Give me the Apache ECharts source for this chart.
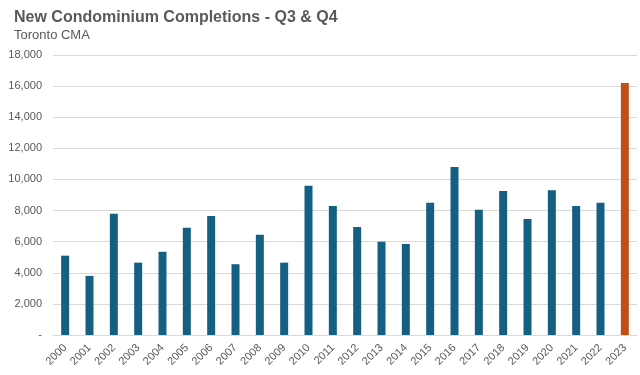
<!DOCTYPE html>
<html>
<head>
<meta charset="utf-8">
<script src="https://cdn.jsdelivr.net/npm/echarts@6/dist/echarts.min.js"></script>
<style>
  html, body { margin: 0; padding: 0; background: #fff; }
  #chart { width: 640px; height: 375px; }
</style>
</head>
<body>
<div id="chart"></div>
<script>
  // years on the x axis
  const years = ['2000', '2001', '2002', '2003', '2004', '2005', '2006', '2007', '2008', '2009', '2010', '2011',
    '2012', '2013', '2014', '2015', '2016', '2017', '2018', '2019', '2020', '2021', '2022', '2023']
  // completions in Q3 & Q4
  const completions = [5100, 3800, 7800, 4650, 5350, 6900, 7650, 4550, 6450, 4650, 9600, 8300,
    6950, 6000, 5850, 8500, 10800, 8050, 9250, 7450, 9300, 8300, 8500, 16200]
  const highlightYear = '2023'

  const chart = echarts.init(document.getElementById('chart'))
  const textColor = '#595959'

  chart.setOption({
    animation: false,
    textStyle: {fontFamily: 'Liberation Sans, Arial, sans-serif'},
    title: {
      text: 'New Condominium Completions - Q3 & Q4',
      subtext: 'Toronto CMA',
      left: 9,
      top: 5,
      itemGap: 3,
      textStyle: {fontSize: 16, fontWeight: 'bold', color: textColor},
      subtextStyle: {fontSize: 13, color: textColor}
    },
    grid: {left: 53, right: 3, top: 55, bottom: 40, containLabel: false},
    xAxis: {
      type: 'category',
      data: years,
      axisLine: {lineStyle: {color: '#d9d9d9'}},
      axisTick: {show: false},
      axisLabel: {rotate: 45, fontSize: 11, color: textColor, interval: 0, margin: 11}
    },
    yAxis: {
      type: 'value',
      min: 0,
      max: 18000,
      interval: 2000,
      axisLine: {show: false},
      axisTick: {show: false},
      splitLine: {lineStyle: {color: '#d9d9d9'}},
      axisLabel: {
        fontSize: 11,
        color: textColor,
        margin: 11,
        formatter: v => v === 0 ? '-' : v.toLocaleString('en-US')
      }
    },
    series: [{
      type: 'bar',
      barWidth: 8,
      data: completions.map((v, i) => ({
        value: v,
        itemStyle: {color: years[i] === highlightYear ? '#c04f15' : '#156082'}
      }))
    }]
  })
</script>
</body>
</html>
